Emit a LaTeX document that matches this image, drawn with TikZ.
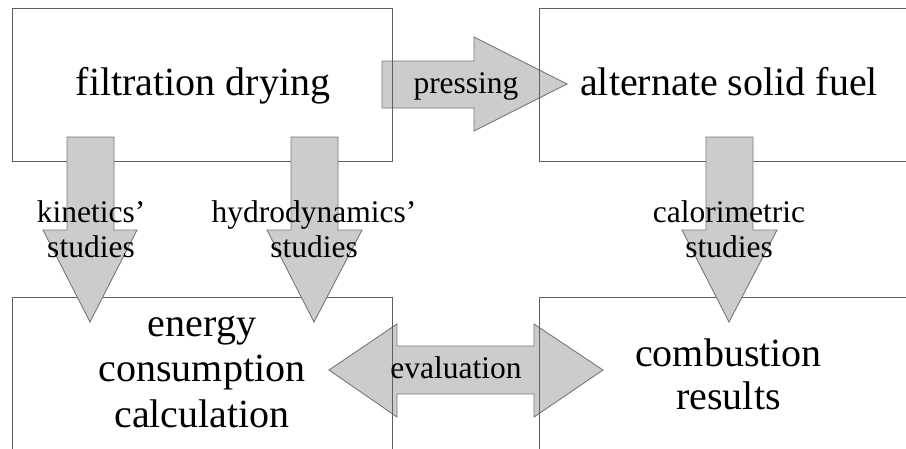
\documentclass[tikz,border=0pt]{standalone}
\usepackage{fontspec}
\setmainfont{Liberation Serif}
\definecolor{arrowfill}{RGB}{204,204,204}
\definecolor{arrowline}{RGB}{120,120,120}
\definecolor{boxline}{RGB}{95,95,95}
\tikzset{
  box/.style={draw=boxline, line width=0.9pt, rectangle, inner sep=0pt},
  blockarrow/.style={fill=arrowfill, draw=arrowline, line width=0.9pt, line join=miter},
  bigtext/.style={font=\fontsize{40}{45.5}\selectfont, inner sep=0pt, align=center, anchor=base},
  smalltext/.style={font=\fontsize{31.5}{35}\selectfont, inner sep=0pt, align=center, anchor=base},
}
\begin{document}
\begin{tikzpicture}[x=1pt,y=-1pt]
\useasboundingbox (0,0) rectangle (906,448);
% horizontal block arrows (beneath the box borders)
\draw[blockarrow] (382,61) -- (474,61) -- (474,37) -- (567,84) -- (474,131) -- (474,108) -- (382,108) -- cycle;
\draw[blockarrow] (329,370) -- (397,324) -- (397,346) -- (534,346) -- (534,324) -- (603,370)
  -- (534,417) -- (534,394) -- (397,394) -- (397,417) -- cycle;
% boxes
\node[box, minimum width=380pt, minimum height=153pt] (fd) at (202,84.5) {};
\node[box, minimum width=373pt, minimum height=153pt] (asf) at (725.5,84.5) {};
\node[box, minimum width=380pt, minimum height=165pt] (ecc) at (202,379.5) {};
\node[box, minimum width=373pt, minimum height=165pt] (cr) at (725.5,379.5) {};
% vertical block arrows (over the boxes)
\draw[blockarrow] (67,137) -- (114,137) -- (114,230) -- (137,230) -- (90,322) -- (43,230) -- (67,230) -- cycle;
\draw[blockarrow] (291,137) -- (338,137) -- (338,230) -- (362,230) -- (314,322) -- (267,230) -- (291,230) -- cycle;
\draw[blockarrow] (706,137) -- (753,137) -- (753,230) -- (777,230) -- (729,322) -- (682,230) -- (706,230) -- cycle;
% texts (base anchor = baseline of the last line)
\node[bigtext] (tfd) at (203,95) {filtration drying};
\node[bigtext] (tasf) at (729,95) {alternate solid fuel};
\node[bigtext] (tecc) at (202,427) {energy\\consumption\\calculation};
\node[bigtext, font=\fontsize{40}{43}\selectfont] (tcr) at (728.5,409) {combustion\\results};
\node[smalltext] (tpress) at (466,93) {pressing};
\node[smalltext] (teval) at (456,378) {evaluation};
\node[smalltext] (tkin) at (91,257) {kinetics’\\studies};
\node[smalltext] (thyd) at (314,257) {hydrodynamics’\\studies};
\node[smalltext] (tcal) at (729,257) {calorimetric\\studies};
\end{tikzpicture}
\end{document}
